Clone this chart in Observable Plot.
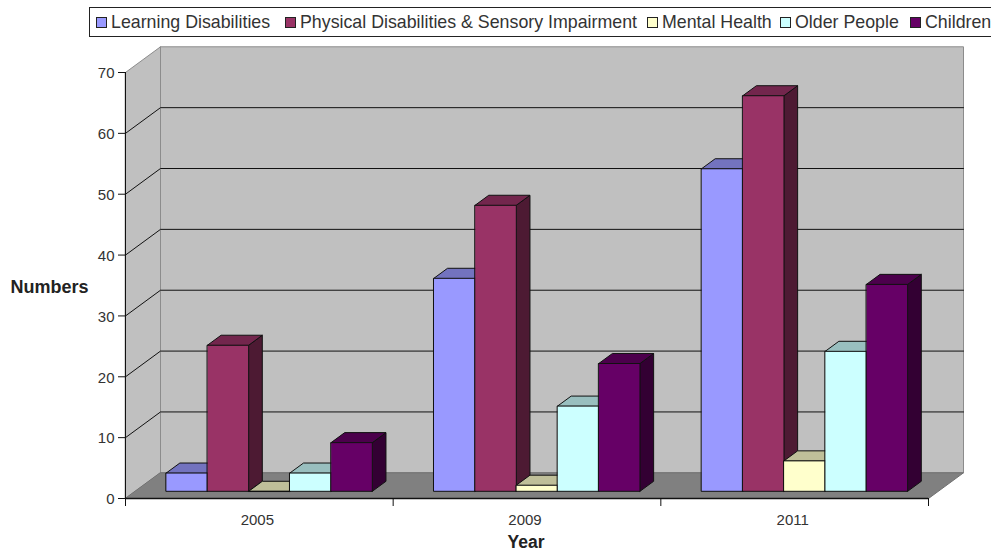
<!DOCTYPE html>
<html>
<head>
<meta charset="utf-8">
<script src="https://cdn.jsdelivr.net/npm/d3@7"></script>
<script src="https://cdn.jsdelivr.net/npm/@observablehq/plot@0.6"></script>
<style>
  html, body { margin: 0; padding: 0; background: #fff; overflow: hidden; width: 991px; height: 551px; }
  body { font-family: "Liberation Sans", Arial, sans-serif; }
  #legend {
    position: relative; box-sizing: border-box; height: 30px; margin: 7px 0 3px 89px; width: 910px;
    border: 1.5px solid #222; display: flex; align-items: center; white-space: nowrap;
    font-size: 17.8px; color: #333; overflow: hidden;
  }
  #legend span.item { position: absolute; display: flex; align-items: center; top: 3.5px; }
  #legend i { display: inline-block; width: 9px; height: 9px; border: 1.5px solid #222; margin-right: 4px; }
  svg { display: block; }
</style>
</head>
<body>
<div id="legend"></div>
<div id="chart"></div>
<script>
const years = ["2005", "2009", "2011"];
const seriesNames = ["Learning Disabilities", "Physical Disabilities & Sensory Impairment", "Mental Health", "Older People", "Children"];
const learning = [3, 35, 53];
const physical = [24, 47, 65];
const mental = [0, 1, 5];
const older = [3, 14, 23];
const children = [8, 21, 34];
const seriesValues = [learning, physical, mental, older, children];

const frontColors = ["#9999ff", "#993366", "#ffffcc", "#ccffff", "#660066"];
const topColors = ["#7373bf", "#73264d", "#bfbf99", "#99bfbf", "#4c004c"];
const sideColors = ["#4d4d80", "#4d1a33", "#808066", "#668080", "#330033"];
const yTicks = [0, 10, 20, 30, 40, 50, 60, 70];
const gridValues = [10, 20, 30, 40, 50, 60];

// Oblique projection: depth 0 is the front of the floor, depth 1 the back wall.
const depthX = 35 / 267.67;
const depthY = 25.7 / 6.086;
const pt = (x, y, d = 0) => ({x: x + d * depthX, y: y + d * depthY});
const poly = (id, ...corners) => corners.map((c) => ({id, ...c}));

// Bars stand in the middle of the floor's depth, five to a year.
const barFront = 0.28, barBack = 0.67;
const groupPad = 0.1155, barWidth = 0.154;

function barFaces(s) {
  const front = [], top = [], side = [];
  seriesValues[s].forEach((v, g) => {
    const x0 = g + groupPad + s * barWidth, x1 = x0 + barWidth;
    side.push(...poly(g, pt(x1, 0, barFront), pt(x1, 0, barBack), pt(x1, v, barBack), pt(x1, v, barFront)));
    top.push(...poly(g, pt(x0, v, barFront), pt(x0, v, barBack), pt(x1, v, barBack), pt(x1, v, barFront)));
    front.push(...poly(g, pt(x0, 0, barFront), pt(x1, 0, barFront), pt(x1, v, barFront), pt(x0, v, barFront)));
  });
  return {front, top, side};
}

const solid = (data, fill, stroke = "#111", strokeWidth = 1) =>
  Plot.line(data, {x: "x", y: "y", z: "id", fill, stroke, strokeWidth, curve: "linear-closed"});

const slots = years.length;
const backWall = poly("back", pt(0, 0, 1), pt(slots, 0, 1), pt(slots, 70, 1), pt(0, 70, 1));
const leftWall = poly("left", pt(0, 0, 0), pt(0, 0, 1), pt(0, 70, 1), pt(0, 70, 0));
const floor = poly("floor", pt(0, 0, 0), pt(slots, 0, 0), pt(slots, 0, 1), pt(0, 0, 1));
const gridLines = gridValues.flatMap((v) => poly(v, pt(0, v, 0), pt(0, v, 1), pt(slots, v, 1)));

const barMarks = seriesNames.flatMap((_, s) => {
  const f = barFaces(s);
  return [solid(f.side, sideColors[s]), solid(f.top, topColors[s]), solid(f.front, frontColors[s])];
});

const plot = Plot.plot({
  width: 991,
  height: 511,
  marginLeft: 125,
  marginRight: 63,
  marginTop: 32,
  marginBottom: 53,
  style: {background: "transparent", fontFamily: "Liberation Sans, Arial, sans-serif", overflow: "visible"},
  x: {domain: [0, slots], axis: null},
  y: {domain: [0, 70], axis: null},
  marks: [
    solid(backWall, "#c0c0c0", "#8c8c8c", 1),
    solid(leftWall, "#c0c0c0", "#8c8c8c", 1),
    solid(floor, "#808080", "#707070", 1),
    Plot.line(gridLines, {x: "x", y: "y", z: "id", stroke: "#111", strokeWidth: 1}),
    ...barMarks,
    Plot.axisY({ticks: yTicks, tickSize: 7, tickFormat: () => "", stroke: "#111", label: null}),
    Plot.axisY({ticks: yTicks, tickSize: 0, tickPadding: 11, dy: 1, fill: "#333", fontSize: 15, label: null}),
    Plot.ruleX([0], {y1: 0, y2: 70, stroke: "#111", strokeWidth: 1}),
    Plot.ruleY([0], {x1: 0, x2: slots, stroke: "#111", strokeWidth: 1.5}),
    Plot.axisX({ticks: d3.range(slots + 1), tickSize: 8, tickFormat: () => "", stroke: "#111", label: null}),
    Plot.axisX({
      ticks: years.map((_, i) => i + 0.5),
      tickSize: 0,
      tickPadding: 16,
      dx: -2,
      tickFormat: (t) => years[Math.floor(t)],
      fill: "#333",
      fontSize: 15,
      label: null
    }),
    Plot.text(["Numbers"], {frameAnchor: "left", dx: -115, dy: 2, textAnchor: "start", fontSize: 18, fontWeight: "bold", fill: "#222"}),
    Plot.text(["Year"], {frameAnchor: "bottom", dx: -1, dy: 49.5, fontSize: 17.5, fontWeight: "bold", fill: "#222"})
  ]
});
document.getElementById("chart").appendChild(plot);

// Legend strip above the chart; it runs off the right-hand edge of the page.
const swatchLeft = [6, 195, 557, 690, 820];
const legend = d3.select("#legend");
seriesNames.forEach((name, i) => {
  const item = legend.append("span").attr("class", "item").style("left", swatchLeft[i] + "px");
  item.append("i").style("background", frontColors[i]);
  item.append("span").text(name);
});
</script>
</body>
</html>
